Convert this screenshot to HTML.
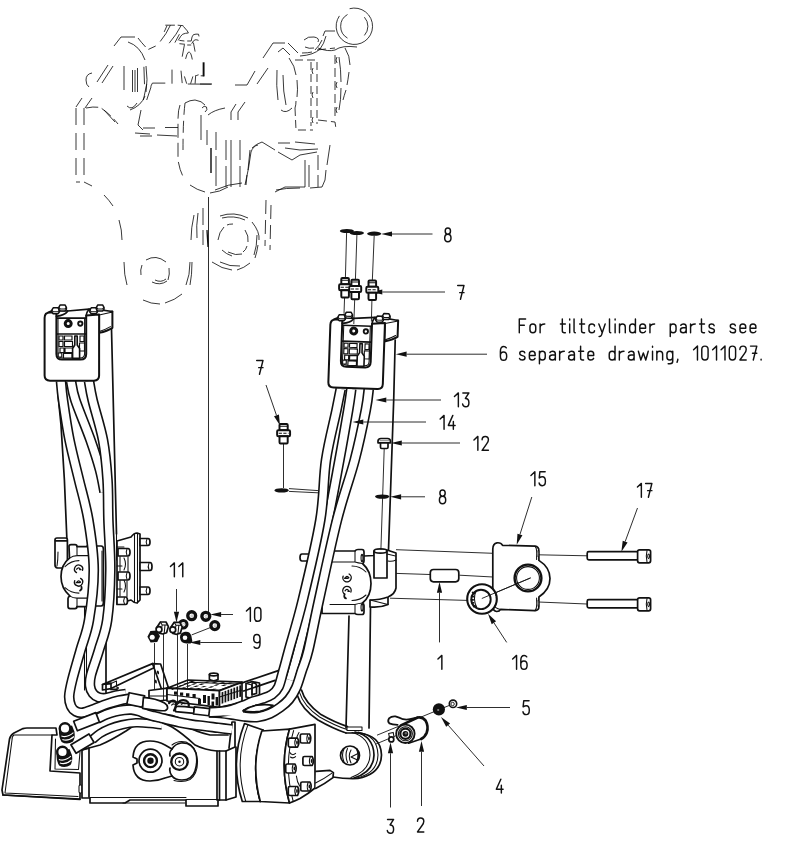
<!DOCTYPE html>
<html lang="en"><head><meta charset="utf-8"><title>Tilt cylinder hydraulics - exploded view</title>
<style>
html,body{margin:0;padding:0;background:#fff}
body{width:800px;height:845px;overflow:hidden;font-family:"Liberation Sans",sans-serif}
svg{display:block}
.o{fill:none;stroke:#111;stroke-width:1.7;stroke-linejoin:round;stroke-linecap:round}
.of{fill:#fff;stroke:#111;stroke-width:1.7;stroke-linejoin:round;stroke-linecap:round}
.k{fill:none;stroke:#111;stroke-width:2.4;stroke-linejoin:round;stroke-linecap:round}
.kf{fill:#fff;stroke:#111;stroke-width:2.4;stroke-linejoin:round;stroke-linecap:round}
.m{fill:none;stroke:#111;stroke-width:1.05;stroke-linejoin:round;stroke-linecap:round}
.mf{fill:#fff;stroke:#111;stroke-width:1.05;stroke-linejoin:round;stroke-linecap:round}
.t{fill:none;stroke:#161616;stroke-width:.9}
.g{fill:none;stroke:#0c0c0c;stroke-width:.82;stroke-linecap:butt}
.b{fill:#111;stroke:none}
.w{fill:#fff;stroke:none}
.st{font-family:"Liberation Sans",sans-serif;font-size:19px;fill:#000;fill-opacity:0;stroke:none}
.tx{fill:none;stroke:#111;stroke-linecap:round;stroke-linejoin:round}
</style></head>
<body>
<svg width="800" height="845" viewBox="0 0 800 845">
<rect class="w" x="0" y="0" width="800" height="845"/>
<path class="t" d="M208.5 197L208.5 612"/>
<path class="g" d="M76 108V182 M84 108V182" stroke-dasharray="17 8"/>
<path class="g" d="M76 107L82 98 M85 108L92 98 M76 182H80 M84 182L86 183L92 186"/>
<path class="g" d="M86 108Q96 106 101 108Q110 114 118 124" stroke-dasharray="12 4"/>
<path class="g" d="M104 110L115 122"/>
<path class="g" d="M92 73Q86 74 86 80Q86 85 89 87"/>
<path class="g" d="M97 82L108 65 M102 83L113 66"/>
<path class="g" d="M114 46L121 37H135 M138 38Q141 42 145.6 47 M148.4 49.4L155.7 46 M160.2 41.5L165.9 33.6L170.4 25.2 M165.3 25.2H174.9 M177.7 25.2L183.3 25.7 M164.2 31.9L167 25.7"/>
<path class="g" d="M169.2 43.2L176 34.2L181 25.7 M174.9 42.6L179.4 34.2 M178.2 40.4Q181 35.2 182.7 34.2Q185.6 33 188.4 33 M183.3 26.3L187.2 30.8L188.4 33"/>
<path class="g" d="M179.4 40.4L184.4 41 M179.4 43.7L185 44.3 M187.2 41H191.2 M187.2 45H191.2 M191.2 41Q191.8 36 193.4 34.7Q196 33.8 198.5 34.2L199 36.4 M191.7 43.7Q193.2 40.4 195.1 39.8Q197 39.6 198.5 40.4 M193.4 42.6L195.1 51.6"/>
<path class="g" d="M184.4 44.9L182.2 56.7 M185.6 58.9Q186.8 53.6 188.4 52.2Q189.6 51.8 190.6 53.3Q191.6 55.6 192.3 59.5"/>
<path class="g" style="stroke-width:1.9" d="M203.6 62.3V76.4"/>
<path class="g" d="M200.7 75.8H204.1 M196.2 75.6L198.6 74.8 M172 69.6V83.7 M181 70.7L182.2 83.1 M184.4 76.4L186.7 83.7 M190.6 83.7L192.9 76.4 M195.1 83.7L195.7 75.2 M187.8 84L211.4 84.2"/>
<path class="g" d="M152.4 83.1H165.3 M152.4 83.1L150.7 86.5 M143.9 66.8L144.5 84.2 M146.7 84.2L143.4 100 M151.2 86.5L146.7 100"/>
<path class="g" d="M128 42Q140 46 145 60 M146 66Q148 80 146 92 M145 96Q141 106 130 110 M124 66V90 M132.5 70V92 M135 70V92 M137.5 68V92 M127 106Q132 111 137 103"/>
<path class="g" d="M141 110L138 125L143 130 M135 133L150 134 M157 135L177 136 M143 128H155 M165 127.5H178 M140 136H152"/>
<path class="g" d="M180 105Q178 110 178 120V160Q180 172 184 178" stroke-dasharray="14 5"/>
<path class="g" d="M185 103Q183 120 183 150" stroke-dasharray="12 6"/>
<path class="g" d="M185 103Q190 100 195 100Q202 101 205 105"/>
<path class="g" d="M202 108Q204 105 206.5 107Q208 110 205 112"/>
<path class="g" d="M208 115Q214 110 225 108 M201 115V140 M207 130V145 M216 132V150 M216 156V186 M226 140V160 M226 166V187 M231 112V120 M231 140V187 M238 112L245 102 M231 112L236 104 M238 112V120 M240 140V160 M240 166V187"/>
<path class="g" style="stroke-width:1.4" d="M211 148V173"/>
<path class="g" d="M245 185Q249 168 251 152Q253 146 258 145"/>
<path class="g" d="M190 185Q197 190 205 192 M210 193Q220 192 228 187 M215 190Q228 184 242 183"/>
<path class="g" d="M200 84H212 M235 85H247L255 71 M257 84L268 68"/>
<path class="g" d="M263 58L273 43H285 M288 43L298 53 M278 52L283 48L290 55"/>
<path class="g" d="M277 70Q276 86 278 100 M283 75Q283 92 286 105 M289 58Q295 66 296 75 M297 80Q298 90 297 97 M296 101Q296 105 295 108 M281 110Q286 114 292 108"/>
<path class="g" d="M295 60H317V124 M295 108L296 130H313 M311 62V126" stroke-dasharray="8 4"/>
<path class="g" d="M313 68Q311 71 313 74 M313 92Q311 95 313 98 M313 117Q311 120 313 123"/>
<path class="g" d="M335 55V120 M317 50L335 48 M318 120L335 122L336 129" stroke-dasharray="9 4"/>
<path class="g" d="M339 57Q341 70 341 82 M341 88Q341 100 339 110 M337 57Q335 60 337 63 M337 82Q335 85 337 88 M337 107Q335 110 337 113"/>
<path class="g" d="M345 48Q350 56 350 65 M349 72Q348 80 347 85 M346 90Q344 96 343 100"/>
<path class="g" d="M302 53Q308 53 312 52 M315 50Q320 45 322 40 M323 36L325 31H335"/>
<path class="g" d="M300 56Q314 55 320 49Q324 44 326 36"/>
<path class="g" d="M318 48Q328 52 335 50Q342 45 357 47"/>
<path class="g" d="M304 40Q308 36 314 37Q320 38 318 42 M305 47Q309 49 314 48"/>
<path class="g" d="M252 148Q256 144 262 142L275 150 M278 143H290 M295 142L315 144 M285 148L300 150L318 149 M278 152L292 160L300 155L317 152"/>
<path class="g" d="M305 160V187 M309 165V187 M318 155V170 M318 175V187 M330 145L327 165 M326 170L325 180L322 187L310 188 M275 192L285 187H305 M250 150L248 170 M247 175L246 185"/>
<path class="g" d="M276 190Q285 188 300 188"/>
<path class="g" d="M266 200L265 246 M271 205L270 250" stroke-dasharray="14 6"/>
<path class="g" d="M194 215Q191 228 191 240 M198 213Q196 226 197 238 M203 208V225 M203 230V245"/>
<path class="g" style="stroke-width:1.3" d="M207 230L208 247"/>
<path class="g" d="M220 216Q234 211 248 218 M252 222Q260 232 259 240 M258 245Q257 252 255 258 M212 262Q222 269 232 270 M237 270Q244 268 250 263 M222 218Q234 215 245 220 M257 235Q257 246 254 255 M220 262Q230 267 240 266"/>
<path class="g" d="M218 240Q219 232 224 227 M227 225Q229 224 233 224 M245 230Q249 236 248 242 M247 246Q246 250 243 252 M222 250Q226 254 232 256 M228 252Q236 256 242 254"/>
<path class="g" d="M146 260Q156 254 166 262 M142 265Q140 270 141 275 M169 268Q170 274 168 280 M152 282Q160 286 167 281 M155 280Q161 283 166 279"/>
<path class="g" d="M104 195Q109 200 113 206 M119 220Q122 230 122 240 M124 262Q124 275 127 285 M143 300Q151 304 160 304 M165 303Q175 300 182 294 M190 262Q190 275 186 285 M192 262Q192 275 190 285"/>
<path class="g" d="M349.6 8.7A18.2 18.2 0 1 1 339.4 15.9"/>
<path class="g" d="M347.5 38.1A13.6 13.6 0 0 1 347.5 14.5 M364.4 17.2A13.6 13.6 0 0 1 364.4 35.4"/>
<path class="o" d="M58 395L61 425L64.4 480L67 542"/>
<path class="o" d="M111.5 329L116.5 534"/>
<path class="m" d="M84.5 607V690 M86.5 610V690"/>
<path class="o" d="M106 607V700"/>
<path class="m" d="M116.5 534V560"/>
<path class="of" d="M117 541L131 537Q134 533 137 533L140 534V600L137 603Q134 603 131 600L117 604Z"/>
<path class="m" d="M134.5 534V602 M137.5 533.5V603"/>
<path class="m" d="M117 547H124 M117 566H122 M117 589H122 M124 558Q127 564 124 570 M124 580Q127 586 124 592"/>
<path class="of" d="M140 538.5H148Q150 538.5 150 542.0Q150 545.5 148 545.5H140Z"/>
<path class="m" d="M147 539.1Q145.4 542.0 147 544.9"/>
<path class="of" d="M140 562.5H150Q152 562.5 152 566.5Q152 570.5 150 570.5H140Z"/>
<path class="m" d="M149 563.1Q147.4 566.5 149 569.9"/>
<path class="of" d="M140 587H148Q150 587 150 590.75Q150 594.5 148 594.5H140Z"/>
<path class="m" d="M147 587.6Q145.4 590.75 147 593.9"/>
<path class="of" d="M118 548.5H128Q130 548.5 130 552.25Q130 556.0 128 556.0H118Z"/>
<path class="m" d="M127 549.1Q125.4 552.25 127 555.4"/>
<path class="of" d="M118 572H128Q130 572 130 576.0Q130 580 128 580H118Z"/>
<path class="m" d="M127 572.6Q125.4 576.0 127 579.4"/>
<path class="of" d="M117 597H125.5Q127.5 597 127.5 600.75Q127.5 604.5 125.5 604.5H117Z"/>
<path class="m" d="M124.5 597.6Q122.9 600.75 124.5 603.9"/>
<path class="m" d="M120 556.5V571 M128 557V571.5 M120 580.5V596 M127 581V596.5"/>
<path class="o" d="M395.2 340L393.7 400L388.5 550"/>
<path class="o" d="M349 616L346 728 M370.5 607L369 728"/>
<path class="of" d="M310 554H302Q300 554 300 557.5Q300 561 302 561H310Z"/>
<path class="of" d="M364 556L374 555.5V551L387 550L396 553V588Q395 594 388 597Q380 600 370 600V607Q380 608 388 604.5L388 597"/>
<path class="m" d="M370 600L388 604.5 M396 560Q392 562 388 561"/>
<path class="of" d="M374 551.5V578H387V551.5"/>
<ellipse class="of" cx="380.5" cy="551" rx="6.5" ry="2.1"/>
<path class="m" d="M387 554L395.5 556"/>
<path class="of" d="M322 551H355Q356 549.5 358 549.5H362Q364 549.5 364 552V561Q364 563 362.5 563.5Q371 571 371 583.5Q371 596 362.5 603Q364 603.5 364 605.5V612Q364 614.5 362 614.5H358Q356 614.5 355 613.5H322Z"/>
<path class="m" d="M355 551V562Q358 563 362.5 563.5 M355 613.5V604.5Q358 603.5 362.5 603 M355 562H330 M355 604.5H330"/>
<path class="m" d="M366 572Q360 566 352 566 M366 595Q360 600.5 352 600.5"/>
<ellipse class="b" cx="362" cy="558" rx="1.5" ry="4.2"/>
<ellipse class="b" cx="362" cy="607.4" rx="1.5" ry="4.2"/>
<ellipse cx="362" cy="558" rx=".6" ry="2.6" fill="#bbb"/><ellipse cx="362" cy="607.4" rx=".6" ry="2.6" fill="#bbb"/>
<path d="M349.1 574.0A4.2 4.2 0 1 1 343.1 576.2" fill="none" stroke="#111" stroke-width="1.35" stroke-linecap="round"/>
<path d="M345.2 578.0Q347.0 575.0 348.9 577.8 M344.6 578.2H348.0" fill="none" stroke="#111" stroke-width="1.35" stroke-linecap="round"/>
<path d="M344.9 594.2A4.2 4.2 0 1 1 350.9 592.0" fill="none" stroke="#111" stroke-width="1.35" stroke-linecap="round"/>
<path d="M348.8 591.0Q347.0 588.0 345.1 590.8 M349.4 591.2H348.0" fill="none" stroke="#111" stroke-width="1.35" stroke-linecap="round"/>
<path class="o" d="M344.4 594.6Q343.6 597.6 346 598.4"/>
<path class="of" d="M55 540Q55 538 57 538H65.4Q67.4 538 67.4 540V568H57.5Q55 567.6 55 565Z"/>
<path class="o" d="M55.6 540.8H67"/>
<path class="m" d="M57 566Q58 560 58 552"/>
<g transform="translate(3 0.6)">
<path class="of" d="M66 546Q66 544 68 544H72Q74 544 74 546H84Q87 546 87 549V603Q87 606 84 606H74Q74 608 72 608H67Q65 608 65 606V598Q65 596 67 595.5Q58 588 58 576Q58 564 66.5 557.5Z"/>
<path class="m" d="M66.5 557.5Q70 555 74 555V546 M67 595.5Q70 597.5 74 597.5V606 M74 555H87 M74 597.5H87"/>
<path class="m" d="M62 566Q68 560 76 560 M62 587Q68 592.5 76 592.5"/>
<path d="M73.5 572.0A4.1 4.1 0 1 1 79.5 569.8" fill="none" stroke="#111" stroke-width="1.35" stroke-linecap="round"/>
<path d="M77.4 568.8Q75.6 565.8 73.7 568.6 M78.0 569.0H76.6" fill="none" stroke="#111" stroke-width="1.35" stroke-linecap="round"/>
<path d="M77.6 577.8A4.1 4.1 0 1 1 71.7 580.0" fill="none" stroke="#111" stroke-width="1.35" stroke-linecap="round"/>
<path d="M73.8 581.8Q75.6 578.8 77.5 581.6 M73.2 582.0H76.6" fill="none" stroke="#111" stroke-width="1.35" stroke-linecap="round"/>
<path class="o" d="M78.4 586Q79.4 589 77 590"/>
</g>
<path class="o" d="M87 546H101Q103.4 546 103.4 549V603Q103.4 606 101 606H87"/>
<path class="m" d="M102 551V601"/>
<path class="of" d="M3 795L2 790L9.5 739Q10.5 735 14 733L23 728.6Q24.5 728 27 728H56L57 735H52L50 771L80 773V799Z"/>
<path class="m" d="M14 735H52 M12 740L5 793 M5 793L78 796.5 M14 735Q12 736 12 740"/>
<path class="m" d="M55.5 739L55 769L78.5 769.5L80 752"/>
<path class="o" d="M3 795L80 799.5"/>
<rect class="mf" x="79" y="785" width="3.2" height="8" rx="1.2"/>
<path class="of" d="M82 750V798H90V803H125L130 800H186V806H218V800H226V751L217 751Q205 750 195 745Q182 733 172 727Q160 720 146 722Q135 724 126 731Q110 741 100 745L89 748Z"/>
<path class="o" d="M89 748V797 M82 750L89 748"/>
<path class="m" d="M90 797.4H186 M123 803H185 M186 799.4H218"/>
<path class="o" d="M217 751V800 M219.5 751V800"/>
<path class="o" d="M150 717Q168 716 182 724Q196 732 210 735H228"/>
<path class="m" d="M152 714Q170 712 186 721Q198 729 212 731H228"/>
<path class="of" d="M226 751L235 747V722L232 722L229 748"/>
<path class="o" d="M226 800L236 797V747"/>
<path class="of" d="M133 757Q134 741 150 741Q158 741 165 745L172 749Q175 744 181 743Q192 742 196 753Q198 762 195 771Q192 780 182 780Q175 780 172 776L165 778Q158 781 150 781Q134 781 133 765L137 763V759Z"/>
<path class="o" d="M172 749Q169 752 170 756 M172 776Q169 772 170 768"/>
<path class="m" d="M172 745Q178 740 186 742Q196 746 197.5 760Q198 774 190 779.5Q183 783 174 780.5"/>
<circle class="o" cx="150.5" cy="760.7" r="11.5"/>
<circle class="k" cx="150.5" cy="760.7" r="6.4"/>
<circle class="b" cx="150.5" cy="760.7" r="3.2"/>
<circle class="k" cx="179.5" cy="761.7" r="8.2"/>
<circle class="m" cx="179.5" cy="761.7" r="4.2"/>
<circle class="b" cx="179.5" cy="761.7" r="1.2"/>
<path class="of" d="M244.5 723.5Q229.5 762 242.3 801.5H260.3Q250 765 263 730Z"/>
<path class="m" d="M248 724.6Q233.5 762 245.8 801.5"/>
<path class="o" d="M263 730Q250 765 260.3 801.5"/>
<path class="of" d="M261.8 731L289.5 729.2Q279 765 289.5 803L260.3 801.5Q250.5 765 261.8 731Z"/>
<path class="of" d="M289.5 729.2L315 724.3V777.5L315 788Q308 794 300 798.5Q295 801 289.5 803Q279 765 289.5 729.2Z"/>
<path class="m" d="M293.6 730.6Q283.4 765 293.2 801.4"/>
<path class="m" d="M299 732.5Q296 737 297 741 M296.4 776Q297 782 299.6 786"/>
<path class="of" d="M300.3 735.6Q300.3 734.0 301.90000000000003 734.0H309.50000000000006Q312.1 738.5 309.50000000000006 743.0H301.90000000000003Q300.3 743.0 300.3 741.4Z"/>
<path class="m" d="M307.70000000000005 734.5Q305.90000000000003 738.5 307.70000000000005 742.5"/>
<ellipse class="b" cx="309.00000000000006" cy="738.5" rx=".9" ry="2.1"/>
<path class="of" d="M288.3 739.7Q288.3 738.1 289.90000000000003 738.1H297.50000000000006Q300.1 742.6 297.50000000000006 747.1H289.90000000000003Q288.3 747.1 288.3 745.5Z"/>
<path class="m" d="M295.70000000000005 738.6Q293.90000000000003 742.6 295.70000000000005 746.6"/>
<ellipse class="b" cx="297.00000000000006" cy="742.6" rx=".9" ry="2.1"/>
<path class="of" d="M302.9 758.1Q302.9 756.5 304.5 756.5H312.1Q314.7 761 312.1 765.5H304.5Q302.9 765.5 302.9 763.9Z"/>
<path class="m" d="M310.3 757.0Q308.5 761 310.3 765.0"/>
<ellipse class="b" cx="311.6" cy="761" rx=".9" ry="2.1"/>
<path class="of" d="M285.7 765.6Q285.7 764.0 287.3 764.0H294.90000000000003Q297.5 768.5 294.90000000000003 773.0H287.3Q285.7 773.0 285.7 771.4Z"/>
<path class="m" d="M293.1 764.5Q291.3 768.5 293.1 772.5"/>
<ellipse class="b" cx="294.40000000000003" cy="768.5" rx=".9" ry="2.1"/>
<path class="of" d="M300.7 783.6Q300.7 782.0 302.3 782.0H309.90000000000003Q312.5 786.5 309.90000000000003 791.0H302.3Q300.7 791.0 300.7 789.4Z"/>
<path class="m" d="M308.1 782.5Q306.3 786.5 308.1 790.5"/>
<ellipse class="b" cx="309.40000000000003" cy="786.5" rx=".9" ry="2.1"/>
<path class="of" d="M288.3 788.1Q288.3 786.5 289.90000000000003 786.5H297.50000000000006Q300.1 791 297.50000000000006 795.5H289.90000000000003Q288.3 795.5 288.3 793.9Z"/>
<path class="m" d="M295.70000000000005 787.0Q293.90000000000003 791 295.70000000000005 795.0"/>
<ellipse class="b" cx="297.00000000000006" cy="791" rx=".9" ry="2.1"/>
<path class="m" d="M289.5 752Q292 756.5 295.6 753.4 M290.4 757Q293 759 295.6 756.6"/>
<path class="o" d="M301.5 690Q305 703 321 714.6Q335 722.6 347.5 726.6"/>
<path class="m" d="M299.6 692.6Q303.4 705.6 319.6 717Q334 725.2 347 729.6"/>
<path class="o" d="M297.4 695.4Q301.4 708.6 318 720Q333 728.6 346 733"/>
<path class="w" d="M316 734L330 731L346 734H358Q381 735 381.5 755Q381 774 358 778.5Q345 779 330 777L316 772Z"/>
<path class="o" d="M346 733H358Q381 735 381.5 755Q381 774 358 778.5Q345 779 333 777"/>
<path class="m" d="M358 732Q377.5 735.5 378 755Q377.5 773 357 778"/>
<path class="o" d="M355 732Q373.5 736 374 755Q373.5 772 354 778"/>
<path class="m" d="M352 732.5Q369.5 737 370 755Q369.5 771 351 777.5"/>
<rect class="mf" x="347" y="727" width="15" height="3.4" rx="0"/>
<circle class="o" cx="350" cy="755.5" r="9.5"/>
<path class="m" d="M344 749Q341 755 344 762 M347.5 748.5Q344.5 755 347.5 762.5 M351 757L358 753.5 M351 757L357.5 760 M351 750Q347.5 756 351 763"/>
<path class="o" d="M357 749.5Q359.5 755 357 761.5"/>
<path class="of" d="M316 771.4L330 770.4L333.4 772.6L333 777.6Q324.6 784 315.6 788.4"/>
<path class="m" d="M315.5 783Q324 779 331.6 773.4"/>
<path class="of" d="M102.5 684.5L152.5 663.6L160.6 664L168.5 688L162 690.5L154 667.8L111 688.6V683.4Z"/>
<path class="o" d="M102.5 684.5V690L111 688.6 M102.5 684.5L111 683.4 M152.5 663.6L154 667.8 M111 689.4H117"/>
<ellipse class="b" cx="158" cy="672.4" rx="1.0" ry="2.0" transform="rotate(-12 158 672.4)"/>
<ellipse class="b" cx="155.8" cy="681.6" rx="1.0" ry="2.0" transform="rotate(-12 155.8 681.6)"/>
<path class="m" d="M111 683.4L116.5 681V686.2"/>
<circle class="m" cx="117.6" cy="688" r="0.8"/>
<path class="of" d="M149 690.5L167 688.2V700L149 702Z"/>
<path class="m" d="M150 696H166"/>
<path class="of" d="M209.4 674.5V679.6Q213.7 682 218 679.6V674.5"/>
<ellipse class="of" cx="213.7" cy="674.5" rx="4.3" ry="1.4"/>
<path class="of" d="M167 688.2L188 680L242 682.2L219.5 690.6Z"/>
<path class="of" d="M167 688.2V701L219.5 707.4V690.6Z"/>
<path class="of" d="M219.5 690.6L242 682.2V702.4L219.5 707.4Z"/>
<path class="b" d="M180.0 688.6l3.4-1.3l3.1.15l-3.4 1.3ZM187.5 688.9l3.4-1.3l3.1.15l-3.4 1.3ZM195.0 689.2l3.4-1.3l3.1.15l-3.4 1.3ZM202.5 689.6l3.4-1.3l3.1.15l-3.4 1.3ZM210.0 690.0l3.4-1.3l3.1.15l-3.4 1.3ZM177.9 686.2l3.4-1.3l3.1.15l-3.4 1.3ZM185.4 686.5l3.4-1.3l3.1.15l-3.4 1.3ZM192.9 686.9l3.4-1.3l3.1.15l-3.4 1.3ZM200.4 687.2l3.4-1.3l3.1.15l-3.4 1.3ZM207.9 687.6l3.4-1.3l3.1.15l-3.4 1.3ZM183.3 684.1l3.4-1.3l3.1.15l-3.4 1.3ZM190.8 684.5l3.4-1.3l3.1.15l-3.4 1.3ZM198.3 684.8l3.4-1.3l3.1.15l-3.4 1.3ZM213.3 685.5l3.4-1.3l3.1.15l-3.4 1.3ZM220.8 685.9l3.4-1.3l3.1.15l-3.4 1.3ZM188.7 682.1l3.4-1.3l3.1.15l-3.4 1.3ZM203.7 682.8l3.4-1.3l3.1.15l-3.4 1.3ZM211.2 683.1l3.4-1.3l3.1.15l-3.4 1.3ZM218.7 683.5l3.4-1.3l3.1.15l-3.4 1.3ZM226.2 683.8l3.4-1.3l3.1.15l-3.4 1.3Z"/>
<path class="m" d="M172 689.4L190 682.2L238 684"/>
<path class="b" d="M221.6 692.2v11.5l1.75-.42v-11.5ZM224.55 691.1v11.5l1.75-.42v-11.5ZM227.5 690.0v11.5l1.75-.42v-11.5ZM230.45 688.9v11.5l1.75-.42v-11.5ZM233.4 687.8v11.5l1.75-.42v-11.5ZM236.35 686.7v11.5l1.75-.42v-11.5ZM239.3 685.6v11.5l1.75-.42v-11.5Z"/>
<path class="m" d="M219.5 697L242 690"/>
<path class="b" d="M203 695h3l0 8h-3ZM207.5 696h2.4l0 9h-2.4ZM211.5 693.5h3l0 6h-3ZM215.6 697h2.4l0 8.6h-2.4ZM198 699h3l0 5.5h-3ZM192.5 694h3.2l0 4h-3.2ZM186 693.2h3.4l0 3.6h-3.4ZM180 692.4h3.2l0 3.4h-3.2ZM174 691.6h3l0 3.2h-3ZM211.5 701.5h2.6l0 4.6h-2.6Z"/>
<path class="m" d="M167 694.5L200 698.5"/>
<path class="of" d="M246 683.5L252 681.6L259.5 683V696L252 698.5L246 697Z"/>
<path class="o" d="M252 684.5Q252 682.8 254 683Q256.5 683.4 256.5 685.4V693.5L252 694.6Z"/>
<path class="m" d="M246 683.5L252 685V698.5"/>
<path class="o" d="M240 683.6L279 670.4 M243.6 691L275 680.4"/>
<path class="m" d="M289 668.6L296 670.4"/>
<path d="M351.3 389C350.8 392.5 350.2 398.2 348.2 410C346.2 421.8 342.8 441.7 339.4 460C336.0 478.3 332.8 496.7 328 520C323.2 543.3 315.4 578.3 310.5 600C305.6 621.7 301.9 636.7 298.5 650C295.1 663.3 291.4 675.0 290 680" fill="none" stroke="#111" stroke-width="10.7"/>
<path d="M351.3 389C350.8 392.5 350.2 398.2 348.2 410C346.2 421.8 342.8 441.7 339.4 460C336.0 478.3 332.8 496.7 328 520C323.2 543.3 315.4 578.3 310.5 600C305.6 621.7 301.9 636.7 298.5 650C295.1 663.3 291.4 675.0 290 680" fill="none" stroke="#fff" stroke-width="7.5"/>
<path d="M92.5 739.5C93.8 738.5 97.1 735.3 100 733.5C102.9 731.7 106.3 730.0 110 728.5C113.7 727.0 117.7 725.8 122 724.8C126.3 723.8 131.3 723.0 136 722.8C140.7 722.6 145.7 723.1 150 723.5C154.3 723.9 160.0 724.8 162 725" fill="none" stroke="#111" stroke-width="9.6"/>
<path d="M92.5 739.5C93.8 738.5 97.1 735.3 100 733.5C102.9 731.7 106.3 730.0 110 728.5C113.7 727.0 117.7 725.8 122 724.8C126.3 723.8 131.3 723.0 136 722.8C140.7 722.6 145.7 723.1 150 723.5C154.3 723.9 160.0 724.8 162 725" fill="none" stroke="#fff" stroke-width="6.4"/>
<path d="M97.6 718.5C99.0 717.9 103.1 715.7 106 714.6C108.9 713.5 112.0 712.5 115 711.7C118.0 710.9 121.2 710.4 124 710C126.8 709.6 129.0 709.4 131.5 709.6C134.0 709.8 136.6 710.5 139 711.2C141.4 711.9 143.7 713.2 146 714C148.3 714.8 150.7 715.4 153 716C155.3 716.6 157.2 716.9 160 717.6C162.8 718.3 166.7 719.4 170 720.2C173.3 721.0 176.3 721.8 180 722.5C183.7 723.2 188.0 724.0 192 724.6C196.0 725.2 199.7 725.5 204 726C208.3 726.5 213.3 727.2 218 727.8C222.7 728.4 229.7 729.2 232 729.5" fill="none" stroke="#111" stroke-width="10.7"/>
<path d="M97.6 718.5C99.0 717.9 103.1 715.7 106 714.6C108.9 713.5 112.0 712.5 115 711.7C118.0 710.9 121.2 710.4 124 710C126.8 709.6 129.0 709.4 131.5 709.6C134.0 709.8 136.6 710.5 139 711.2C141.4 711.9 143.7 713.2 146 714C148.3 714.8 150.7 715.4 153 716C155.3 716.6 157.2 716.9 160 717.6C162.8 718.3 166.7 719.4 170 720.2C173.3 721.0 176.3 721.8 180 722.5C183.7 723.2 188.0 724.0 192 724.6C196.0 725.2 199.7 725.5 204 726C208.3 726.5 213.3 727.2 218 727.8C222.7 728.4 229.7 729.2 232 729.5" fill="none" stroke="#fff" stroke-width="7.5"/>
<path d="M368.75 389C368.3 392.5 368.1 398.2 365.8 410C363.5 421.8 359.5 441.7 354.7 460C349.9 478.3 342.9 496.7 337 520C331.1 543.3 323.8 578.3 319 600C314.2 621.7 311.2 638.3 308.4 650C305.6 661.7 304.1 663.7 302 670C299.9 676.3 298.2 683.1 296 688C293.8 692.9 291.7 696.2 289 699.5C286.3 702.8 283.2 705.2 280 707.5C276.8 709.8 273.7 711.9 270 713.5C266.3 715.1 262.3 716.5 258 717C253.7 717.5 248.3 716.9 244 716.5C239.7 716.1 236.0 715.2 232 714.6C228.0 714.0 223.8 713.4 220 713C216.2 712.6 210.8 712.4 209 712.3" fill="none" stroke="#111" stroke-width="10.7"/>
<path d="M368.75 389C368.3 392.5 368.1 398.2 365.8 410C363.5 421.8 359.5 441.7 354.7 460C349.9 478.3 342.9 496.7 337 520C331.1 543.3 323.8 578.3 319 600C314.2 621.7 311.2 638.3 308.4 650C305.6 661.7 304.1 663.7 302 670C299.9 676.3 298.2 683.1 296 688C293.8 692.9 291.7 696.2 289 699.5C286.3 702.8 283.2 705.2 280 707.5C276.8 709.8 273.7 711.9 270 713.5C266.3 715.1 262.3 716.5 258 717C253.7 717.5 248.3 716.9 244 716.5C239.7 716.1 236.0 715.2 232 714.6C228.0 714.0 223.8 713.4 220 713C216.2 712.6 210.8 712.4 209 712.3" fill="none" stroke="#fff" stroke-width="7.5"/>
<path d="M340.7 389C340.0 392.5 338.9 398.2 336.5 410C334.1 421.8 328.7 441.7 326 460C323.3 478.3 324.2 496.7 320.3 520C316.4 543.3 308.0 578.3 302.75 600C297.5 621.7 292.3 638.0 289 650C285.7 662.0 284.8 665.8 283 672C281.2 678.2 280.3 683.2 278.5 687C276.7 690.8 274.8 692.5 272 694.5C269.2 696.5 265.3 697.6 262 698.8C258.7 700.0 255.0 700.7 252 701.8C249.0 702.9 247.3 703.9 244 705.2C240.7 706.5 236.0 708.4 232 709.5C228.0 710.6 223.8 711.3 220 711.8C216.2 712.3 210.8 712.2 209 712.3" fill="none" stroke="#111" stroke-width="10.7"/>
<path d="M340.7 389C340.0 392.5 338.9 398.2 336.5 410C334.1 421.8 328.7 441.7 326 460C323.3 478.3 324.2 496.7 320.3 520C316.4 543.3 308.0 578.3 302.75 600C297.5 621.7 292.3 638.0 289 650C285.7 662.0 284.8 665.8 283 672C281.2 678.2 280.3 683.2 278.5 687C276.7 690.8 274.8 692.5 272 694.5C269.2 696.5 265.3 697.6 262 698.8C258.7 700.0 255.0 700.7 252 701.8C249.0 702.9 247.3 703.9 244 705.2C240.7 706.5 236.0 708.4 232 709.5C228.0 710.6 223.8 711.3 220 711.8C216.2 712.3 210.8 712.2 209 712.3" fill="none" stroke="#fff" stroke-width="7.5"/>
<path d="M211 709.5L243 706L243 716L211 715Z" fill="#fff"/>
<path class="of" d="M243 710.8Q249 706.6 257 705.2Q266 704 273 705.4Q268 709.6 260 711.4Q251 712.6 243 710.8Z"/>
<path d="M71 381C71.7 384.2 72.0 390.2 75.3 400C78.5 409.8 86.4 428.3 90.5 440C94.6 451.7 97.7 461.3 100 470C102.3 478.7 103.8 488.3 104.5 492" fill="none" stroke="#111" stroke-width="10.7"/>
<path d="M71 381C71.7 384.2 72.0 390.2 75.3 400C78.5 409.8 86.4 428.3 90.5 440C94.6 451.7 97.7 461.3 100 470C102.3 478.7 103.8 488.3 104.5 492" fill="none" stroke="#fff" stroke-width="7.5"/>
<path d="M89 381C89.6 384.2 90.3 390.2 92.6 400C94.9 409.8 100.5 426.7 103 440C105.5 453.3 106.6 466.7 107.5 480C108.4 493.3 107.9 505.0 108.4 520C108.9 535.0 110.5 553.3 110.3 570C110.1 586.7 109.1 606.7 107.2 620C105.3 633.3 101.7 640.8 99 650C96.3 659.2 92.5 669.0 91 675C89.5 681.0 89.7 682.9 90 686C90.3 689.1 91.5 691.6 93 693.5C94.5 695.4 96.8 696.8 99 697.5C101.2 698.2 103.2 698.3 106 698C108.8 697.7 112.7 696.2 116 695.5C119.3 694.8 124.3 694.2 126 694" fill="none" stroke="#111" stroke-width="10.7"/>
<path d="M89 381C89.6 384.2 90.3 390.2 92.6 400C94.9 409.8 100.5 426.7 103 440C105.5 453.3 106.6 466.7 107.5 480C108.4 493.3 107.9 505.0 108.4 520C108.9 535.0 110.5 553.3 110.3 570C110.1 586.7 109.1 606.7 107.2 620C105.3 633.3 101.7 640.8 99 650C96.3 659.2 92.5 669.0 91 675C89.5 681.0 89.7 682.9 90 686C90.3 689.1 91.5 691.6 93 693.5C94.5 695.4 96.8 696.8 99 697.5C101.2 698.2 103.2 698.3 106 698C108.8 697.7 112.7 696.2 116 695.5C119.3 694.8 124.3 694.2 126 694" fill="none" stroke="#fff" stroke-width="7.5"/>
<path d="M61 381C61.3 384.2 61.6 390.2 63 400C64.4 409.8 66.8 426.7 69.5 440C72.2 453.3 75.8 466.7 79 480C82.2 493.3 85.9 505.0 88.4 520C90.9 535.0 93.7 553.3 93.75 570C93.8 586.7 91.2 606.7 89 620C86.8 633.3 83.4 640.0 80.6 650C77.8 660.0 74.1 672.3 72.2 680C70.3 687.7 69.4 691.7 69.2 696C69.0 700.3 69.9 703.4 71 706C72.1 708.6 74.0 710.4 76 711.5C78.0 712.6 80.0 713.0 83 712.6C86.0 712.2 90.0 710.4 94 709C98.0 707.6 102.8 705.4 107 704C111.2 702.6 115.2 701.4 119 700.5C122.8 699.6 128.2 698.9 130 698.6" fill="none" stroke="#111" stroke-width="10.7"/>
<path d="M61 381C61.3 384.2 61.6 390.2 63 400C64.4 409.8 66.8 426.7 69.5 440C72.2 453.3 75.8 466.7 79 480C82.2 493.3 85.9 505.0 88.4 520C90.9 535.0 93.7 553.3 93.75 570C93.8 586.7 91.2 606.7 89 620C86.8 633.3 83.4 640.0 80.6 650C77.8 660.0 74.1 672.3 72.2 680C70.3 687.7 69.4 691.7 69.2 696C69.0 700.3 69.9 703.4 71 706C72.1 708.6 74.0 710.4 76 711.5C78.0 712.6 80.0 713.0 83 712.6C86.0 712.2 90.0 710.4 94 709C98.0 707.6 102.8 705.4 107 704C111.2 702.6 115.2 701.4 119 700.5C122.8 699.6 128.2 698.9 130 698.6" fill="none" stroke="#fff" stroke-width="7.5"/>
<path class="b" d="M59 729.5Q58.6 737.5 61.6 741.9Q67 745.1 73 741.5Q75.6 737.5 74.4 731.5L72 725.5Z"/>
<path d="M61.4 736.1Q67.4 738.1 73.4 732.7 M62.4 739.5Q68.2 741.7 74 736.5" fill="none" stroke="#fff" stroke-width="1.05"/>
<circle cx="65" cy="728.5" r="5.3" fill="#fff" stroke="#111" stroke-width="2.4"/>
<path class="b" d="M56.5 753Q56.1 761 59.1 765.4Q64.5 768.6 70.5 765Q73.1 761 71.9 755L69.5 749Z"/>
<path d="M58.9 759.6Q64.9 761.6 70.9 756.2 M59.9 763Q65.7 765.2 71.5 760" fill="none" stroke="#fff" stroke-width="1.05"/>
<circle cx="62.5" cy="752" r="5.3" fill="#fff" stroke="#111" stroke-width="2.4"/>
<path class="of" d="M77.35 730.75L99.45 722.15L95.75 712.65L73.65 721.25Z"/>
<path class="of" d="M76.07 753.29L94.07 742.49L88.93 733.91L70.93 744.71Z"/>
<path class="of" d="M126.83 704.08L142.33 707.28L144.67 695.92L129.17 692.72Z"/>
<path class="of" d="M143.4 697.4C151 698 159 700 164.5 703C168.5 705.6 168.6 709.6 165 710.6C159 711.4 150 709.6 142.6 708.4Z"/>
<path d="M169 703Q172 699 175.6 701.6Q177 705 174 710.5" fill="none" stroke="#111" stroke-width="2.2" stroke-linecap="round"/>
<path d="M171.4 705.5Q173 703 174.6 704.6" fill="none" stroke="#111" stroke-width="1.2"/>
<path d="M178 703Q181 699 186 700.6Q189.6 702.6 188.6 706.6" fill="none" stroke="#111" stroke-width="2.2" stroke-linecap="round"/>
<path d="M181 704.6Q183.4 702.4 185.6 704" fill="none" stroke="#111" stroke-width="1.2"/>
<path class="of" d="M176.5 706.4C180 706 186 706.6 194 707.6V713.4C186 712.6 180 712 175.6 711.6Q174.6 708.6 176.5 706.4Z"/>
<path class="of" d="M193.58 713.98L208.78 715.78L209.62 708.62L194.42 706.82Z"/>
<path class="of" style="stroke-width:2" d="M99.1 314.4L112.4 311.5V327.8Q107.4 331.0 99.1 332.9Z"/>
<path class="m" d="M110.4 326.6Q105.4 329.6 100 331.2"/>
<path class="w" d="M48 312.6L54 309.8L67.6 311.0L89 309.2L97 309.4L112.4 311.5L99.1 314.4L86.2 316.0V320.0H56.4Z"/>
<path class="o" d="M48 312.6L54 309.8L67.6 311.0L89 309.2L97 309.4L112.4 311.5"/>
<path class="of" style="stroke-width:2" d="M44.6 318.0Q44.6 312.6 50 312.6H56.4V354.0Q56.4 359.6 62 359.6H80.6Q86.2 359.6 86.2 354.0V315.6L99.1 314.4V375.6Q99.1 380.7 94 380.7H50Q44.6 380.7 44.6 375.6Z"/>
<path class="o" d="M56.4 316.4Q65 315.0 67 312.0L67.6 311.0 M86.2 315.6Q86.6 312.0 89 309.2"/>
<path class="m" d="M58 318.2V353.5Q58 358.0 62.5 358.0H80Q84.6 358.0 84.6 353.5V318.2"/>
<path class="o" d="M57 318.2H85.6 M57 334.0H85.6"/>
<circle cx="68.2" cy="323.6" r="3.0" fill="#fff" stroke="#111" stroke-width="3"/>
<circle cx="80.3" cy="323.6" r="2.15" fill="#fff" stroke="#111" stroke-width="1.9"/>
<path d="M59 336.0h4v4.0h-4ZM64.5 336.0h7.5v4.0h-7.5ZM59 341.5h4v5.0h-4ZM64.5 341.5h8v5.0h-8ZM60 348.0h4v4.5h-4ZM65 348.0h8v4.5h-8ZM63.5 353.5h8.5v4.5h-8.5ZM80 336.0h4v5.5h-4ZM79.5 343.0h5v8.0h-5ZM58.2 353.0h3.6v4.0h-3.6Z" fill="#fff" stroke="#111" stroke-width="1.15"/>
<path d="M74.8 336.0h2.4V345.0L79.6 348.5V358.4H72.6V348.5L74.8 345.0Z" fill="#fff" stroke="#111" stroke-width="1.6" stroke-linejoin="round"/>
<path d="M51.800000000000004 310.2L53.2 307.78H58.0L59.4 310.2V312.048L58.0 313.71999999999997H53.2L51.800000000000004 312.048Z" fill="#fff" stroke="#111" stroke-width="1.5" stroke-linejoin="round"/>
<path d="M51.800000000000004 310.2L53.2 311.784H58.0L59.4 310.2" fill="none" stroke="#111" stroke-width="1.1"/>
<path d="M58.800000000000004 307.4L60.2 304.97999999999996H65.0L66.4 307.4V309.248L65.0 310.91999999999996H60.2L58.800000000000004 309.248Z" fill="#fff" stroke="#111" stroke-width="1.5" stroke-linejoin="round"/>
<path d="M58.800000000000004 307.4L60.2 308.984H65.0L66.4 307.4" fill="none" stroke="#111" stroke-width="1.1"/>
<path d="M89.8 310.2L91.2 307.78H95.99999999999999L97.39999999999999 310.2V312.048L95.99999999999999 313.71999999999997H91.2L89.8 312.048Z" fill="#fff" stroke="#111" stroke-width="1.5" stroke-linejoin="round"/>
<path d="M89.8 310.2L91.2 311.784H95.99999999999999L97.39999999999999 310.2" fill="none" stroke="#111" stroke-width="1.1"/>
<path d="M96.4 307.4L97.80000000000001 304.97999999999996H102.6L104.0 307.4V309.248L102.6 310.91999999999996H97.80000000000001L96.4 309.248Z" fill="#fff" stroke="#111" stroke-width="1.5" stroke-linejoin="round"/>
<path d="M96.4 307.4L97.80000000000001 308.984H102.6L104.0 307.4" fill="none" stroke="#111" stroke-width="1.1"/>
<g transform="rotate(2 356.6 354.2)">
<path class="of" style="stroke-width:2" d="M383.85 321.95L396.95 319.05V335.35Q391.95 338.55 383.85 340.45Z"/>
<path class="m" d="M394.95 334.15Q389.95 337.15 384.75 338.75"/>
<path class="w" d="M332.75 320.15L338.75 317.35L352.35 318.55L373.75 316.75L381.75 316.95L396.95 319.05L383.85 321.95L370.95 323.55V327.55H341.15Z"/>
<path class="o" d="M332.75 320.15L338.75 317.35L352.35 318.55L373.75 316.75L381.75 316.95L396.95 319.05"/>
<path class="of" style="stroke-width:2" d="M329.35 325.55Q329.35 320.15 334.75 320.15H341.15V361.55Q341.15 367.15 346.75 367.15H365.35Q370.95 367.15 370.95 361.55V323.15L383.85 321.95V383.15Q383.85 388.25 378.75 388.25H334.75Q329.35 388.25 329.35 383.15Z"/>
<path class="o" d="M341.15 323.95Q349.75 322.55 351.75 319.55L352.35 318.55 M370.95 323.15Q371.35 319.55 373.75 316.75"/>
<path class="m" d="M342.75 325.75V361.05Q342.75 365.55 347.25 365.55H364.75Q369.35 365.55 369.35 361.05V325.75"/>
<path class="o" d="M341.75 325.75H370.35 M341.75 341.55H370.35"/>
<circle cx="352.95" cy="331.15" r="3.0" fill="#fff" stroke="#111" stroke-width="3"/>
<circle cx="365.05" cy="331.15" r="2.15" fill="#fff" stroke="#111" stroke-width="1.9"/>
<path d="M343.75 343.55h4v4.0h-4ZM349.25 343.55h7.5v4.0h-7.5ZM343.75 349.05h4v5.0h-4ZM349.25 349.05h8v5.0h-8ZM344.75 355.55h4v4.5h-4ZM349.75 355.55h8v4.5h-8ZM348.25 361.05h8.5v4.5h-8.5ZM364.75 343.55h4v5.5h-4ZM364.25 350.55h5v8.0h-5ZM342.95 360.55h3.6v4.0h-3.6Z" fill="#fff" stroke="#111" stroke-width="1.15"/>
<path d="M359.55 343.55h2.4V352.55L364.35 356.05V365.95H357.35V356.05L359.55 352.55Z" fill="#fff" stroke="#111" stroke-width="1.6" stroke-linejoin="round"/>
<path d="M336.55 317.75L337.95 315.33H342.75000000000006L344.15000000000003 317.75V319.598L342.75000000000006 321.27H337.95L336.55 319.598Z" fill="#fff" stroke="#111" stroke-width="1.5" stroke-linejoin="round"/>
<path d="M336.55 317.75L337.95 319.334H342.75000000000006L344.15000000000003 317.75" fill="none" stroke="#111" stroke-width="1.1"/>
<path d="M343.55 314.95L344.95 312.53H349.75000000000006L351.15000000000003 314.95V316.798L349.75000000000006 318.46999999999997H344.95L343.55 316.798Z" fill="#fff" stroke="#111" stroke-width="1.5" stroke-linejoin="round"/>
<path d="M343.55 314.95L344.95 316.534H349.75000000000006L351.15000000000003 314.95" fill="none" stroke="#111" stroke-width="1.1"/>
<path d="M374.55 317.75L375.95 315.33H380.75000000000006L382.15000000000003 317.75V319.598L380.75000000000006 321.27H375.95L374.55 319.598Z" fill="#fff" stroke="#111" stroke-width="1.5" stroke-linejoin="round"/>
<path d="M374.55 317.75L375.95 319.334H380.75000000000006L382.15000000000003 317.75" fill="none" stroke="#111" stroke-width="1.1"/>
<path d="M381.15 314.95L382.54999999999995 312.53H387.35L388.75 314.95V316.798L387.35 318.46999999999997H382.54999999999995L381.15 316.798Z" fill="#fff" stroke="#111" stroke-width="1.5" stroke-linejoin="round"/>
<path d="M381.15 314.95L382.54999999999995 316.534H387.35L388.75 314.95" fill="none" stroke="#111" stroke-width="1.1"/>
</g>
<path class="t" d="M346.6 233L345.4 278"/>
<path class="t" d="M356.9 235L355.4 280"/>
<path class="t" d="M374.2 235.6L372.3 281"/>
<path class="t" d="M344.6 296.8L344 313.7"/>
<path class="t" d="M354.7 299.4L353.8 324"/>
<path class="t" d="M371.9 300.7L371.4 321.5"/>
<ellipse class="b" cx="346.9" cy="231" rx="7.1" ry="2.1"/>
<ellipse class="b" cx="356.8" cy="233" rx="7.2" ry="2.1"/>
<ellipse class="b" cx="374.2" cy="233.7" rx="7.1" ry="2.1"/>
<path class="t" d="M445 292L382.3 292.0"/>
<path class="b" d="M371.5 292L382.3 289.4L382.3 294.6Z"/>
<path class="of" style="stroke-width:1.95" d="M341.3 279Q341.3 278 342.3 278H347.90000000000003Q348.90000000000003 278 348.90000000000003 279V284.2H341.3Z"/>
<path class="m" d="M341.3 280.2H348.90000000000003"/>
<path class="of" style="stroke-width:1.95" d="M339.1 285.4Q339.1 284.2 340.3 284.2H349.90000000000003Q351.1 284.2 351.1 285.4V289Q351.1 290.2 349.90000000000003 290.2H340.3Q339.1 290.2 339.1 289Z"/>
<path d="M340.70000000000005 287.2H349.5" fill="none" stroke="#111" stroke-width="1.1" stroke-dasharray="3.2 1.4"/>
<path class="of" style="stroke-width:1.95" d="M341.3 290.2H348.90000000000003V296.2Q348.90000000000003 297.4 347.90000000000003 297.4H342.3Q341.3 297.4 341.3 296.2Z"/>
<path class="of" style="stroke-width:1.95" d="M351.4 280.8Q351.4 279.8 352.4 279.8H358.0Q359.0 279.8 359.0 280.8V286.0H351.4Z"/>
<path class="m" d="M351.4 282.0H359.0"/>
<path class="of" style="stroke-width:1.95" d="M349.2 287.2Q349.2 286.0 350.4 286.0H360.0Q361.2 286.0 361.2 287.2V290.8Q361.2 292.0 360.0 292.0H350.4Q349.2 292.0 349.2 290.8Z"/>
<path d="M350.8 289.0H359.59999999999997" fill="none" stroke="#111" stroke-width="1.1" stroke-dasharray="3.2 1.4"/>
<path class="of" style="stroke-width:1.95" d="M351.4 292.0H359.0V298.0Q359.0 299.2 358.0 299.2H352.4Q351.4 299.2 351.4 298.0Z"/>
<path class="of" style="stroke-width:1.95" d="M368.5 281.5Q368.5 280.5 369.5 280.5H375.1Q376.1 280.5 376.1 281.5V286.7H368.5Z"/>
<path class="m" d="M368.5 282.7H376.1"/>
<path class="of" style="stroke-width:1.95" d="M366.3 287.9Q366.3 286.7 367.5 286.7H377.1Q378.3 286.7 378.3 287.9V291.5Q378.3 292.7 377.1 292.7H367.5Q366.3 292.7 366.3 291.5Z"/>
<path d="M367.90000000000003 289.7H376.7" fill="none" stroke="#111" stroke-width="1.1" stroke-dasharray="3.2 1.4"/>
<path class="of" style="stroke-width:1.95" d="M368.5 292.7H376.1V298.7Q376.1 299.9 375.1 299.9H369.5Q368.5 299.9 368.5 298.7Z"/>
<path class="t" d="M283.5 443L283.5 488"/>
<path class="t" d="M289 488.6L318 490.6 M289 491.4L318 492.8"/>
<ellipse class="b" cx="281.6" cy="490.4" rx="7.2" ry="2.2"/>
<path class="of" style="stroke-width:1.95" d="M279.49600000000004 425Q279.49600000000004 424 280.49600000000004 424H286.704Q287.704 424 287.704 425V430.2H279.49600000000004Z"/>
<path class="m" d="M279.49600000000004 426.2H287.704"/>
<path class="of" style="stroke-width:1.95" d="M277.12 431.4Q277.12 430.2 278.32 430.2H288.88000000000005Q290.08000000000004 430.2 290.08000000000004 431.4V435Q290.08000000000004 436.2 288.88000000000005 436.2H278.32Q277.12 436.2 277.12 435Z"/>
<path d="M278.72 433.2H288.48" fill="none" stroke="#111" stroke-width="1.1" stroke-dasharray="3.2 1.4"/>
<path class="of" style="stroke-width:1.95" d="M279.49600000000004 436.2H287.704V442.2Q287.704 443.4 286.704 443.4H280.49600000000004Q279.49600000000004 443.4 279.49600000000004 442.2Z"/>
<path class="t" d="M384.2 449L380.9 550"/>
<path class="of" d="M378 441Q378 438.6 381 438.5H387.5Q390.4 438.6 390.4 441V442.8H378Z"/>
<path class="of" d="M380.5 442.8H388V447.3Q388 448.5 386.8 448.5H381.7Q380.5 448.5 380.5 447.3Z"/>
<path d="M379.5 440.6H389" stroke="#999" stroke-width="1.3" fill="none"/>
<ellipse class="b" cx="382.2" cy="496.6" rx="7.2" ry="2.2"/>
<path class="t" d="M154.5 643V690 M163.5 633V700 M177.5 633V705 M187.5 644V690"/>
<path class="t" d="M191.7 634.9L210.3 627.6"/>
<circle cx="191.7" cy="615.7" r="3.95" fill="#fff" stroke="#111" stroke-width="3.3"/>
<circle cx="192.0" cy="615.9000000000001" r="1.1" fill="none" stroke="#999" stroke-width=".6"/>
<circle cx="205.8" cy="616.3" r="3.95" fill="#fff" stroke="#111" stroke-width="3.3"/>
<circle cx="206.10000000000002" cy="616.5" r="1.1" fill="none" stroke="#999" stroke-width=".6"/>
<circle cx="214.8" cy="625.6" r="3.95" fill="#fff" stroke="#111" stroke-width="3.3"/>
<circle cx="215.10000000000002" cy="625.8000000000001" r="1.1" fill="none" stroke="#999" stroke-width=".6"/>
<path class="b" d="M180 637.6A5.8 5.8 0 0 1 191.4 636L192.4 641.6L190.6 643.4L186.6 643.6Q180.4 643.4 180 637.6Z"/>
<circle cx="185" cy="637.8" r="2.3" fill="#fff"/>
<path class="b" d="M147.4 636.8L150.4 631L157 630.6L160 636.2L157.2 642L150.6 642.6Z"/>
<circle cx="152.2" cy="637.2" r="2.5" fill="#fff"/>
<path class="of" d="M156.4 628.0L160.4 622.0H166.0L168.4 626.6L166.6 632.8000000000001L162.79999999999998 634.0L159.2 633.2Z"/>
<path class="m" d="M160.4 622.0L162.2 625.0H167.2 M162.2 625.0L161.0 630.6 M165.0 625.2L164.2 633.2"/>
<circle cx="159.0" cy="629.5" r="2.9" fill="#fff" stroke="#111" stroke-width="1.7"/>
<circle cx="183.3" cy="624.2" r="3.7" fill="#fff" stroke="#111" stroke-width="3.0"/>
<circle cx="183.60000000000002" cy="624.4000000000001" r="1.1" fill="none" stroke="#999" stroke-width=".6"/>
<path class="of" d="M170.20000000000002 628.3L174.20000000000002 622.3H179.8L182.20000000000002 626.9L180.4 633.1L176.6 634.3L173.0 633.5Z"/>
<path class="m" d="M174.20000000000002 622.3L176.0 625.3H181.0 M176.0 625.3L174.8 630.9 M178.8 625.5L178.0 633.5"/>
<circle cx="172.8" cy="629.8" r="2.9" fill="#fff" stroke="#111" stroke-width="1.7"/>
<path class="t" d="M377 735.2L453 703.9"/>
<path class="t" d="M376 744L396.4 735.5"/>
<path class="mf" d="M388.6 733.4L393.2 732.4L394 737L389.6 738.2Z"/>
<circle cx="391.3" cy="739.4" r="2.5" fill="#fff" stroke="#111" stroke-width="1.7"/>
<path class="w" d="M400.9 725.4L417.7 717.5Q423 716.6 426 721Q429 727 426.6 733Q424.6 737.4 421 739L408 743.4Z"/>
<path d="M400.9 725.4L417.7 717.5Q422.6 716.6 425.6 720.6Q428.8 726.4 426.8 732.4Q425 737 421.1 739" fill="none" stroke="#111" stroke-width="2.7" stroke-linecap="round"/>
<path class="o" d="M408.6 743.2L421.1 739"/>
<circle cx="405.4" cy="733.8" r="9.2" fill="#fff" stroke="#111" stroke-width="1.9"/>
<circle class="m" cx="405.4" cy="733.8" r="7"/>
<circle cx="405.4" cy="733.8" r="5.1" fill="#fff" stroke="#111" stroke-width="2.2"/>
<circle class="b" cx="405.4" cy="733.8" r="2.9"/>
<circle cx="405.9" cy="733.2" r="1.2" fill="#666"/>
<path d="M397.6 724.8Q392 724.6 389.4 723.4Q387.2 721.4 389 718.4Q391.6 716 395.4 716.4Q399 717.4 403 719.2Q406.4 720 410 719.2L417.7 717.5" fill="none" stroke="#111" stroke-width="1.8" stroke-linecap="round"/>
<circle class="b" cx="438.9" cy="709.4" r="6.1"/>
<circle cx="438.2" cy="710" r="1.1" fill="#888"/>
<circle cx="453" cy="703.8" r="3.7" fill="#fff" stroke="#111" stroke-width="1.6"/>
<circle cx="452.6" cy="704" r="1.7" fill="none" stroke="#111" stroke-width=".9"/>
<path class="t" d="M396 549.7L493 553.3"/>
<path class="t" d="M538.4 554.8L587 555.8"/>
<path class="t" d="M396 573.4L430 574.5"/>
<path class="t" d="M459.4 575.2L493 577"/>
<path class="t" d="M390 598.2L467 600.4"/>
<path class="t" d="M538.4 602L587 604"/>
<rect class="of" x="430.3" y="569.5" width="28.5" height="12.3" rx="3.2"/>
<path class="of" d="M492.8 549Q492.8 543.6 497 542.8Q501 542.4 502.6 545.3L535 546.2Q538.9 546.6 538.9 551V560.4Q550 567.4 550 578.6Q550 589.8 538.9 597V606.5Q538.9 610.4 535 610.7L500.6 609.4Q499.4 611.6 496.6 611.5Q493.2 611 492.8 607Z"/>
<path class="m" d="M492.8 604Q495 608.6 500.6 609.4"/>
<path class="m" d="M535 546.2Q536.6 548 536.6 551V559.4 M536.6 598V606Q536.6 609 535 610.7"/>
<ellipse cx="537.6" cy="553.6" rx="1" ry="2.8" fill="#999" stroke="#333" stroke-width=".6"/><ellipse cx="537.6" cy="603.2" rx="1" ry="2.8" fill="#999" stroke="#333" stroke-width=".6"/>
<circle class="k" cx="528" cy="578" r="13.4"/>
<circle class="m" cx="528" cy="578" r="11.4"/>
<path class="t" d="M530.6 577.9L481.8 598.5"/>
<circle cx="482" cy="599" r="14.8" fill="#fff" stroke="#111" stroke-width="2.1"/>
<path d="M491 587.6Q497.6 593 496.4 603" fill="none" stroke="#111" stroke-width="1.1" stroke-dasharray="1.6 1.2"/>
<circle cx="481" cy="599.4" r="9.7" fill="none" stroke="#111" stroke-width="1.9"/>
<path class="o" d="M472.6 592.4L474.4 593.4 M471.6 596L473.4 596.6 M471.4 599.8L473.2 599.8 M472 603.4L473.6 602.8 M473.6 606.6L475 605.6"/>
<path class="m" d="M476 591Q472.6 599 476.6 607"/>
<path class="t" d="M530.6 577.9L481.8 598.5"/>
<rect class="of" x="587.2" y="551.6999999999999" width="51" height="8.2" rx="1.6"/>
<rect class="of" x="637.6" y="549.8" width="13" height="13" rx="2"/>
<path class="m" d="M647 550.5999999999999Q645.5 556.3 647 562.0"/>
<ellipse class="m" cx="648.6" cy="556.3" rx="0.9" ry="2.3"/>
<rect class="of" x="587.2" y="599.6999999999999" width="51" height="8.2" rx="1.6"/>
<rect class="of" x="637.6" y="597.8" width="13" height="13" rx="2"/>
<path class="m" d="M647 598.5999999999999Q645.5 604.3 647 610.0"/>
<ellipse class="m" cx="648.6" cy="604.3" rx="0.9" ry="2.3"/>
<path class="t" d="M432.5 234L392.0 234.0"/>
<path class="b" d="M381.2 234L392.0 231.4L392.0 236.6Z"/>
<path class="t" d="M487 354.2L406.6 354.2"/>
<path class="b" d="M395.8 354.2L406.6 351.6L406.6 356.8Z"/>
<path class="t" d="M441 400L386.3 400.0"/>
<path class="b" d="M375.5 400L386.3 397.4L386.3 402.6Z"/>
<path class="t" d="M426 422L363.3 422.0"/>
<path class="b" d="M352.5 422L363.3 419.4L363.3 424.6Z"/>
<path class="t" d="M460 443L401.8 443.0"/>
<path class="b" d="M391 443L401.8 440.4L401.8 445.6Z"/>
<path class="t" d="M425 496.8L401.1 496.8"/>
<path class="b" d="M390.3 496.8L401.1 494.2L401.1 499.4Z"/>
<path class="t" d="M531.8 497L519.95 534.5"/>
<path class="b" d="M516.7 544.8L517.47 533.72L522.43 535.28Z"/>
<path class="t" d="M637.5 508L625.13 541.66"/>
<path class="b" d="M621.4 551.8L622.69 540.77L627.57 542.56Z"/>
<path class="t" d="M439.5 642.4L439.5 592.8"/>
<path class="b" d="M439.5 582L442.1 592.8L436.9 592.8Z"/>
<path class="t" d="M506.7 642.4L493.9 622.75"/>
<path class="b" d="M488 613.7L496.07 621.33L491.72 624.17Z"/>
<path class="t" d="M510 707.5L466.8 707.5"/>
<path class="b" d="M456 707.5L466.8 704.9L466.8 710.1Z"/>
<path class="t" d="M484 766L448.12 725.12"/>
<path class="b" d="M441 717L450.08 723.4L446.17 726.83Z"/>
<path class="t" d="M421.5 806L421.5 751.8"/>
<path class="b" d="M421.5 741L424.1 751.8L418.9 751.8Z"/>
<path class="t" d="M390.5 807.5L390.5 753.3"/>
<path class="b" d="M390.5 742.5L393.1 753.3L387.9 753.3Z"/>
<path class="t" d="M176.5 589L176.5 611.7"/>
<path class="b" d="M176.5 622.5L173.9 611.7L179.1 611.7Z"/>
<path class="t" d="M233 614.5L221.1 614.5"/>
<path class="b" d="M210.3 614.5L221.1 611.9L221.1 617.1Z"/>
<path class="t" d="M242 642.5L200.3 642.5"/>
<path class="b" d="M189.5 642.5L200.3 639.9L200.3 645.1Z"/>
<path class="t" d="M266 385L276.47 415.29"/>
<path class="b" d="M280 425.5L274.01 416.14L278.93 414.44Z"/>
<path class="tx" style="stroke-width:1.45" d="M447.85,234.29 Q445.2,234.29 445.2,231.1 Q445.2,227.9 447.85,227.9 Q450.5,227.9 450.5,231.1 Q450.5,234.29 447.85,234.29 Q444.7,234.29 444.7,238.05 Q444.7,241.8 447.85,241.8 Q451.0,241.8 451.0,238.05 Q451.0,234.29 447.85,234.29"/>
<text class="st" x="444.7" y="241.8" textLength="6.3" lengthAdjust="spacingAndGlyphs">8</text>
<path class="tx" style="stroke-width:1.45" d="M457.7,285.4 L464.0,285.4 L460.47,299.3 M459.72,292.63 L464.0,292.63"/>
<text class="st" x="457.7" y="299.3" textLength="6.3" lengthAdjust="spacingAndGlyphs">7</text>
<path class="tx" style="stroke-width:1.45" d="M506.32,347.79 Q505.44,346.4 503.8,346.4 Q500.4,346.4 500.4,351.26 L500.4,356.13 Q500.4,360.3 503.55,360.3 Q506.7,360.3 506.7,356.13 Q506.7,351.96 503.55,351.96 Q500.4,351.96 500.4,355.3"/>
<text class="st" x="500.4" y="360.3" textLength="6.3" lengthAdjust="spacingAndGlyphs">6</text>
<path class="tx" style="stroke-width:1.45" d="M454.45,396.51 L458.36,392.9 L458.36,406.8 M462.86,392.9 L468.91,392.9 L465.38,398.46 Q468.91,398.46 468.91,402.63 Q468.91,406.8 465.76,406.8 Q462.99,406.8 462.61,404.02"/>
<text class="st" x="454.2" y="406.8" textLength="14.7" lengthAdjust="spacingAndGlyphs">13</text>
<path class="tx" style="stroke-width:1.45" d="M440.15,419.01 L444.06,415.4 L444.06,429.3 M452.84,415.4 L448.31,425.41 L455.11,425.41 M453.35,421.52 L453.35,429.3"/>
<text class="st" x="439.9" y="429.3" textLength="15.2" lengthAdjust="spacingAndGlyphs">14</text>
<path class="tx" style="stroke-width:1.45" d="M473.95,440.01 L477.86,436.4 L477.86,450.3 M482.11,439.74 Q482.11,436.4 485.26,436.4 Q488.41,436.4 488.41,439.74 Q488.41,441.68 486.64,443.91 L482.11,450.3 L488.41,450.3"/>
<text class="st" x="473.7" y="450.3" textLength="14.7" lengthAdjust="spacingAndGlyphs">12</text>
<path class="tx" style="stroke-width:1.45" d="M442.55,496.29 Q439.9,496.29 439.9,493.1 Q439.9,489.9 442.55,489.9 Q445.2,489.9 445.2,493.1 Q445.2,496.29 442.55,496.29 Q439.4,496.29 439.4,500.05 Q439.4,503.8 442.55,503.8 Q445.7,503.8 445.7,500.05 Q445.7,496.29 442.55,496.29"/>
<text class="st" x="439.4" y="503.8" textLength="6.3" lengthAdjust="spacingAndGlyphs">8</text>
<path class="tx" style="stroke-width:1.45" d="M530.95,475.41 L534.86,471.8 L534.86,485.7 M545.16,471.8 L539.86,471.8 L539.23,477.92 Q540.87,476.8 542.38,476.8 Q545.41,476.8 545.41,481.25 Q545.41,485.7 542.26,485.7 Q539.49,485.7 539.11,482.92"/>
<text class="st" x="530.7" y="485.7" textLength="14.7" lengthAdjust="spacingAndGlyphs">15</text>
<path class="tx" style="stroke-width:1.45" d="M637.45,487.01 L641.36,483.4 L641.36,497.3 M645.61,483.4 L651.91,483.4 L648.38,497.3 M647.62,490.63 L651.91,490.63"/>
<text class="st" x="637.2" y="497.3" textLength="14.7" lengthAdjust="spacingAndGlyphs">17</text>
<path class="tx" style="stroke-width:1.45" d="M437.95,659.01 L441.86,655.4 L441.86,669.3"/>
<text class="st" x="437.7" y="669.3" textLength="4.2" lengthAdjust="spacingAndGlyphs">1</text>
<path class="tx" style="stroke-width:1.45" d="M512.65,659.01 L516.56,655.4 L516.56,669.3 M526.73,656.79 Q525.85,655.4 524.21,655.4 Q520.81,655.4 520.81,660.26 L520.81,665.13 Q520.81,669.3 523.96,669.3 Q527.11,669.3 527.11,665.13 Q527.11,660.96 523.96,660.96 Q520.81,660.96 520.81,664.3"/>
<text class="st" x="512.4" y="669.3" textLength="14.7" lengthAdjust="spacingAndGlyphs">16</text>
<path class="tx" style="stroke-width:1.45" d="M529.05,700.7 L523.76,700.7 L523.13,706.82 Q524.76,705.7 526.28,705.7 Q529.3,705.7 529.3,710.15 Q529.3,714.6 526.15,714.6 Q523.38,714.6 523.0,711.82"/>
<text class="st" x="523.0" y="714.6" textLength="6.3" lengthAdjust="spacingAndGlyphs">5</text>
<path class="tx" style="stroke-width:1.45" d="M500.84,779.2 L496.3,789.21 L503.1,789.21 M501.34,785.32 L501.34,793.1"/>
<text class="st" x="496.3" y="793.1" textLength="6.8" lengthAdjust="spacingAndGlyphs">4</text>
<path class="tx" style="stroke-width:1.45" d="M417.5,821.34 Q417.5,818.0 420.65,818.0 Q423.8,818.0 423.8,821.34 Q423.8,823.28 422.04,825.51 L417.5,831.9 L423.8,831.9"/>
<text class="st" x="417.5" y="831.9" textLength="6.3" lengthAdjust="spacingAndGlyphs">2</text>
<path class="tx" style="stroke-width:1.45" d="M387.55,819.4 L393.6,819.4 L390.07,824.96 Q393.6,824.96 393.6,829.13 Q393.6,833.3 390.45,833.3 Q387.68,833.3 387.3,830.52"/>
<text class="st" x="387.3" y="833.3" textLength="6.3" lengthAdjust="spacingAndGlyphs">3</text>
<path class="tx" style="stroke-width:1.45" d="M256.7,360.4 L263.0,360.4 L259.47,374.3 M258.72,367.63 L263.0,367.63"/>
<text class="st" x="256.7" y="374.3" textLength="6.3" lengthAdjust="spacingAndGlyphs">7</text>
<path class="tx" style="stroke-width:1.45" d="M170.45,566.51 L174.36,562.9 L174.36,576.8 M178.86,566.51 L182.77,562.9 L182.77,576.8"/>
<text class="st" x="170.2" y="576.8" textLength="12.6" lengthAdjust="spacingAndGlyphs">11</text>
<path class="tx" style="stroke-width:1.45" d="M246.45,611.01 L250.36,607.4 L250.36,621.3 M254.61,617.82 L254.61,610.88 Q254.61,607.4 257.76,607.4 Q260.91,607.4 260.91,610.88 L260.91,617.82 Q260.91,621.3 257.76,621.3 Q254.61,621.3 254.61,617.82"/>
<text class="st" x="246.2" y="621.3" textLength="14.7" lengthAdjust="spacingAndGlyphs">10</text>
<path class="tx" style="stroke-width:1.45" d="M254.08,646.91 Q254.96,648.3 256.6,648.3 Q260.0,648.3 260.0,643.43 L260.0,638.57 Q260.0,634.4 256.85,634.4 Q253.7,634.4 253.7,638.57 Q253.7,642.74 256.85,642.74 Q260.0,642.74 260.0,639.4"/>
<text class="st" x="253.7" y="648.3" textLength="6.3" lengthAdjust="spacingAndGlyphs">9</text>
<path class="tx" style="stroke-width:1.45" d="M519.3,332.8 L519.3,318.9 L525.6,318.9 M519.3,325.29 L524.34,325.29 M529.96,329.8 L529.96,327.05 Q529.96,324.04 532.86,324.04 Q535.75,324.04 535.75,327.05 L535.75,329.8 Q535.75,332.8 532.86,332.8 Q529.96,332.8 529.96,329.8 M540.11,332.8 L540.11,324.04 M540.11,327.3 Q540.49,324.04 544.77,324.04 M562.31,318.9 L562.31,330.8 Q562.31,332.8 564.33,332.8 L565.34,332.8 M560.42,324.04 L565.34,324.04 M569.69,332.8 L569.69,324.04 M569.69,320.1 L569.69,319.07 M574.05,318.9 L574.05,331.17 Q574.05,332.8 575.31,332.8 M581.56,318.9 L581.56,330.8 Q581.56,332.8 583.58,332.8 L584.59,332.8 M579.67,324.04 L584.59,324.04 M594.49,326.04 Q594.49,324.04 591.84,324.04 Q588.94,324.04 588.94,327.05 L588.94,329.8 Q588.94,332.8 591.84,332.8 Q594.49,332.8 594.49,330.8 M598.85,324.04 L602.12,332.55 M605.15,324.04 L601.49,335.05 Q600.86,336.55 599.48,336.55 L599.1,336.55 M609.5,318.9 L609.5,331.17 Q609.5,332.8 610.76,332.8 M615.12,332.8 L615.12,324.04 M615.12,320.1 L615.12,319.07 M619.48,332.8 L619.48,324.04 M619.48,326.92 Q619.48,324.04 622.38,324.04 Q625.28,324.04 625.28,326.92 L625.28,332.8 M635.43,318.9 L635.43,332.8 M635.43,327.05 Q635.43,324.04 632.53,324.04 Q629.64,324.04 629.64,327.05 L629.64,329.8 Q629.64,332.8 632.53,332.8 Q635.43,332.8 635.43,329.8 M639.79,328.3 L645.59,328.3 L645.59,327.05 Q645.59,324.04 642.69,324.04 Q639.79,324.04 639.79,327.05 L639.79,329.8 Q639.79,332.8 642.69,332.8 Q644.83,332.8 645.46,331.17 M649.95,332.8 L649.95,324.04 M649.95,327.3 Q650.32,324.04 654.61,324.04 M670.25,336.55 L670.25,324.04 M670.25,327.05 Q670.25,324.04 673.15,324.04 Q676.05,324.04 676.05,327.05 L676.05,329.8 Q676.05,332.8 673.15,332.8 Q670.25,332.8 670.25,329.8 M680.79,325.29 Q681.67,324.04 683.31,324.04 Q686.2,324.04 686.2,326.8 L686.2,332.8 M686.2,330.05 Q686.2,332.8 683.18,332.8 Q680.41,332.8 680.41,330.3 Q680.41,327.8 683.18,327.8 L686.2,327.8 M690.56,332.8 L690.56,324.04 M690.56,327.3 Q690.94,324.04 695.23,324.04 M701.47,318.9 L701.47,330.8 Q701.47,332.8 703.49,332.8 L704.5,332.8 M699.58,324.04 L704.5,324.04 M714.15,325.67 Q713.9,324.04 711.63,324.04 Q709.11,324.04 709.11,326.17 Q709.11,327.92 711.63,328.42 Q714.4,328.92 714.4,330.67 Q714.4,332.8 711.63,332.8 Q709.23,332.8 708.86,331.17 M735.34,325.67 Q735.09,324.04 732.82,324.04 Q730.3,324.04 730.3,326.17 Q730.3,327.92 732.82,328.42 Q735.59,328.92 735.59,330.67 Q735.59,332.8 732.82,332.8 Q730.43,332.8 730.05,331.17 M739.95,328.3 L745.75,328.3 L745.75,327.05 Q745.75,324.04 742.85,324.04 Q739.95,324.04 739.95,327.05 L739.95,329.8 Q739.95,332.8 742.85,332.8 Q744.99,332.8 745.62,331.17 M750.1,328.3 L755.9,328.3 L755.9,327.05 Q755.9,324.04 753.0,324.04 Q750.1,324.04 750.1,327.05 L750.1,329.8 Q750.1,332.8 753.0,332.8 Q755.14,332.8 755.77,331.17"/>
<text class="st" x="519.3" y="332.8" textLength="236.6" lengthAdjust="spacingAndGlyphs">For tiltcylinder parts see</text>
<path class="tx" style="stroke-width:1.45" d="M524.79,352.87 Q524.54,351.24 522.27,351.24 Q519.75,351.24 519.75,353.37 Q519.75,355.12 522.27,355.62 Q525.04,356.12 525.04,357.87 Q525.04,360.0 522.27,360.0 Q519.88,360.0 519.5,358.37 M529.35,355.5 L535.14,355.5 L535.14,354.25 Q535.14,351.24 532.24,351.24 Q529.35,351.24 529.35,354.25 L529.35,357.0 Q529.35,360.0 532.24,360.0 Q534.39,360.0 535.02,358.37 M539.44,363.75 L539.44,351.24 M539.44,354.25 Q539.44,351.24 542.34,351.24 Q545.24,351.24 545.24,354.25 L545.24,357.0 Q545.24,360.0 542.34,360.0 Q539.44,360.0 539.44,357.0 M549.92,352.49 Q550.8,351.24 552.44,351.24 Q555.34,351.24 555.34,354.0 L555.34,360.0 M555.34,357.25 Q555.34,360.0 552.31,360.0 Q549.54,360.0 549.54,357.5 Q549.54,355.0 552.31,355.0 L555.34,355.0 M559.64,360.0 L559.64,351.24 M559.64,354.5 Q560.02,351.24 564.3,351.24 M568.98,352.49 Q569.86,351.24 571.5,351.24 Q574.4,351.24 574.4,354.0 L574.4,360.0 M574.4,357.25 Q574.4,360.0 571.37,360.0 Q568.6,360.0 568.6,357.5 Q568.6,355.0 571.37,355.0 L574.4,355.0 M580.59,346.1 L580.59,358.0 Q580.59,360.0 582.6,360.0 L583.61,360.0 M578.7,351.24 L583.61,351.24 M587.91,355.5 L593.71,355.5 L593.71,354.25 Q593.71,351.24 590.81,351.24 Q587.91,351.24 587.91,354.25 L587.91,357.0 Q587.91,360.0 590.81,360.0 Q592.95,360.0 593.58,358.37 M615.04,346.1 L615.04,360.0 M615.04,354.25 Q615.04,351.24 612.14,351.24 Q609.24,351.24 609.24,354.25 L609.24,357.0 Q609.24,360.0 612.14,360.0 Q615.04,360.0 615.04,357.0 M619.34,360.0 L619.34,351.24 M619.34,354.5 Q619.72,351.24 624.0,351.24 M628.68,352.49 Q629.56,351.24 631.2,351.24 Q634.1,351.24 634.1,354.0 L634.1,360.0 M634.1,357.25 Q634.1,360.0 631.08,360.0 Q628.3,360.0 628.3,357.5 Q628.3,355.0 631.08,355.0 L634.1,355.0 M638.4,351.24 L640.86,360.0 L643.32,352.99 L645.77,360.0 L648.23,351.24 M652.53,360.0 L652.53,351.24 M652.53,347.3 L652.53,346.27 M656.83,360.0 L656.83,351.24 M656.83,354.12 Q656.83,351.24 659.73,351.24 Q662.63,351.24 662.63,354.12 L662.63,360.0 M672.73,351.24 L672.73,361.25 Q672.73,363.75 669.95,363.75 L668.19,363.75 M672.73,354.25 Q672.73,351.24 669.83,351.24 Q666.93,351.24 666.93,354.25 L666.93,357.0 Q666.93,360.0 669.83,360.0 Q672.73,360.0 672.73,357.0 M677.78,359.12 L677.78,360.0 L677.03,362.25 M693.57,349.71 L697.47,346.1 L697.47,360.0 M701.78,356.52 L701.78,349.57 Q701.78,346.1 704.93,346.1 Q708.08,346.1 708.08,349.57 L708.08,356.52 Q708.08,360.0 704.93,360.0 Q701.78,360.0 701.78,356.52 M712.63,349.71 L716.53,346.1 L716.53,360.0 M721.09,349.71 L724.99,346.1 L724.99,360.0 M729.3,356.52 L729.3,349.57 Q729.3,346.1 732.45,346.1 Q735.6,346.1 735.6,349.57 L735.6,356.52 Q735.6,360.0 732.45,360.0 Q729.3,360.0 729.3,356.52 M739.9,349.44 Q739.9,346.1 743.05,346.1 Q746.2,346.1 746.2,349.44 Q746.2,351.38 744.43,353.61 L739.9,360.0 L746.2,360.0 M750.5,346.1 L756.8,346.1 L753.27,360.0 M752.51,353.33 L756.8,353.33 M761.1,360.0 L761.1,359.25"/>
<text class="st" x="519.5" y="360" textLength="241.6" lengthAdjust="spacingAndGlyphs">separate drawing, 1011027.</text>
</svg>
</body></html>
